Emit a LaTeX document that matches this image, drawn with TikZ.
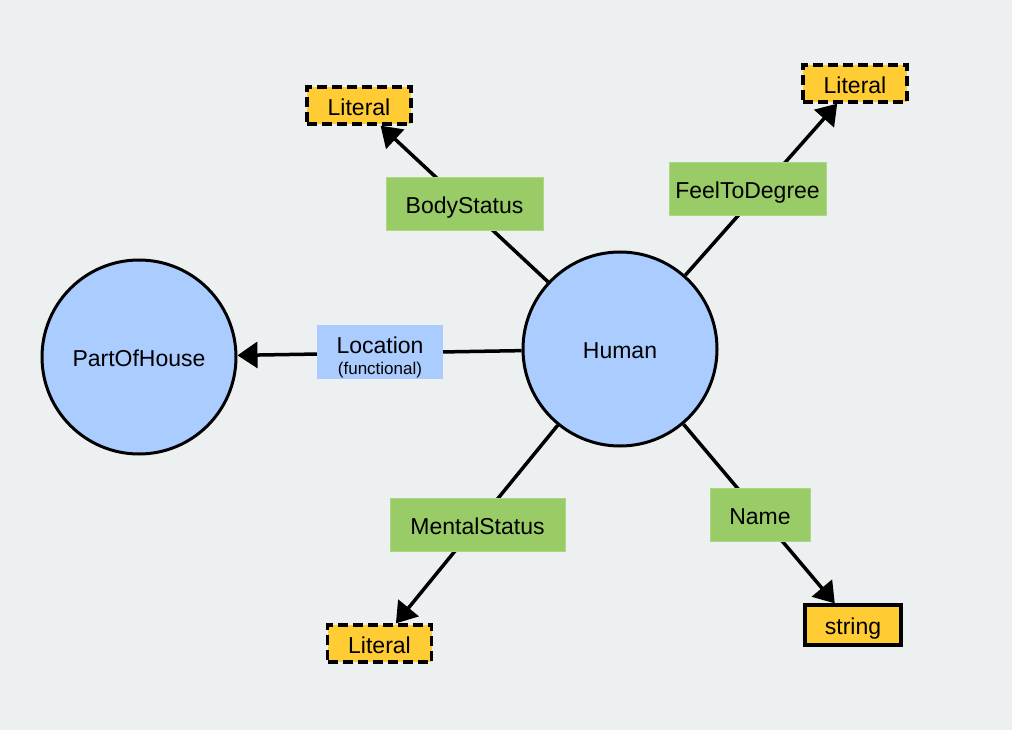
\documentclass[tikz,border=0pt]{standalone}
\usepackage{fontspec}
\setmainfont{Liberation Sans}
\usetikzlibrary{arrows.meta}
\definecolor{bg}{RGB}{236,240,241}
\definecolor{cls}{RGB}{170,204,255}
\definecolor{prop}{RGB}{153,204,102}
\definecolor{lit}{RGB}{255,204,51}
\tikzset{
  txt/.style={font=\fontsize{23}{21}\selectfont, text height=19.6pt, text depth=0pt},
  classnode/.style={circle, draw=black, line width=3pt, fill=cls, minimum size=194pt, inner sep=0pt, txt},
  propbox/.style={rectangle, fill=prop, draw=prop!80!white, line width=0.6pt, minimum height=53pt, inner sep=0pt, txt},
  funcbox/.style={rectangle, fill=cls, minimum height=54pt, inner sep=0pt},
  functext/.style={inner sep=0pt, align=center, font=\fontsize{23}{21}\selectfont},
  litbox/.style={rectangle, fill=lit, draw=black, line width=3.3pt, dash pattern=on 10pt off 5pt, minimum width=104pt, minimum height=37pt, inner sep=0pt, txt},
  dtbox/.style={rectangle, fill=lit, draw=black, line width=3.3pt, minimum width=96pt, minimum height=40pt, inner sep=0pt, txt},
  edge/.style={line width=3.5pt, -{Triangle[length=20pt,width=26pt]}},
}
\begin{document}
\begin{tikzpicture}[x=1pt,y=-1pt]
\fill[bg] (0,0) rectangle (1012,730);
\useasboundingbox (0,0) rectangle (1012,730);
\node[classnode] (human) at (620,349) {Human};
\node[classnode] (house) at (139,357) {PartOfHouse};
\node[litbox] (lit1) at (359,105.5) {Literal};
\node[litbox] (lit2) at (855,83.5) {Literal};
\node[litbox] (lit3) at (379.5,643.5) {Literal};
\node[dtbox] (str) at (853,625) {string};
\draw[edge] (human) -- (house);
\draw[edge] (human) -- (lit1);
\draw[edge] (human) -- (lit2);
\draw[edge] (human) -- (lit3);
\draw[edge] (human) -- (str);
\node[funcbox, minimum width=126pt] (loc) at (380,352) {};
\node[functext] (loctext) at (380,357) {Location\\{\fontsize{17}{21}\selectfont (functional)}};
\node[propbox, minimum width=157pt] (body) at (464.5,203.5) {BodyStatus};
\node[propbox, minimum width=157pt] (feel) at (747.5,188.5) {FeelToDegree};
\node[propbox, minimum width=175pt] (mental) at (477.5,524.5) {MentalStatus};
\node[propbox, minimum width=100pt] (name) at (760,515) {Name};
\end{tikzpicture}
\end{document}
